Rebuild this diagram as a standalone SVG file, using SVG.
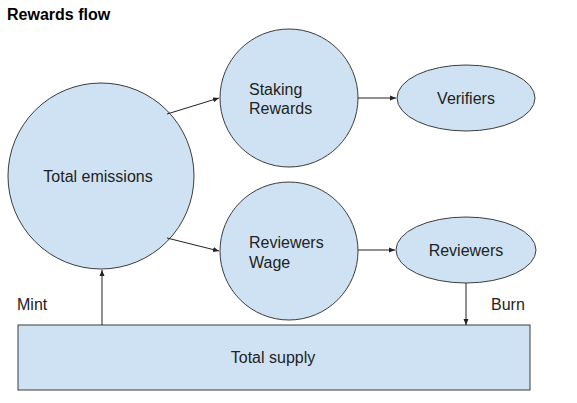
<svg xmlns="http://www.w3.org/2000/svg" width="577" height="403" viewBox="0 0 577 403">
<style>
.n{fill:#cfe2f3;stroke:#3c3c3c;stroke-width:1}
.t{font-family:"Liberation Sans",Arial,sans-serif;font-size:16px;fill:#222}
.c{stroke:#222;stroke-width:1;fill:none}
</style>
<defs>
<marker id="a" markerWidth="7" markerHeight="6" refX="6" refY="3" orient="auto" markerUnits="userSpaceOnUse">
<path d="M0,0.5 L6,3 L0,5.5 Z" fill="#222"/>
</marker>
</defs>
<rect width="577" height="403" fill="#fff"/>
<text x="7" y="20" font-family="Liberation Sans,Arial,sans-serif" font-size="16" font-weight="bold" fill="#000">Rewards flow</text>
<g id="total-emissions"><circle class="n" cx="101" cy="176" r="93"/><text class="t" x="98" y="182" text-anchor="middle">Total emissions</text></g>
<g id="staking-rewards"><circle class="n" cx="289" cy="98" r="69"/><text class="t" x="249" y="95">Staking</text><text class="t" x="249" y="114">Rewards</text></g>
<g id="reviewers-wage"><circle class="n" cx="289" cy="251" r="69"/><text class="t" x="249" y="248">Reviewers</text><text class="t" x="249" y="268">Wage</text></g>
<g id="verifiers"><ellipse class="n" cx="466" cy="98" rx="69" ry="33"/><text class="t" x="466" y="104" text-anchor="middle">Verifiers</text></g>
<g id="reviewers"><ellipse class="n" cx="466" cy="250" rx="70" ry="33"/><text class="t" x="466" y="256" text-anchor="middle">Reviewers</text></g>
<g id="total-supply"><rect class="n" x="18" y="325" width="512" height="65"/><text class="t" x="273" y="363" text-anchor="middle">Total supply</text></g>
<g id="connectors">
<line class="c" x1="167" y1="114" x2="219" y2="98" marker-end="url(#a)"/>
<line class="c" x1="167" y1="238" x2="219" y2="251" marker-end="url(#a)"/>
<line class="c" x1="358" y1="98" x2="396" y2="98" marker-end="url(#a)"/>
<line class="c" x1="358" y1="250" x2="395" y2="250" marker-end="url(#a)"/>
<line class="c" x1="102" y1="325" x2="102" y2="270" marker-end="url(#a)"/>
<line class="c" x1="466" y1="283" x2="466" y2="325" marker-end="url(#a)"/>
<text class="t" x="17" y="310">Mint</text>
<text class="t" x="491" y="310">Burn</text>
</g>
</svg>
